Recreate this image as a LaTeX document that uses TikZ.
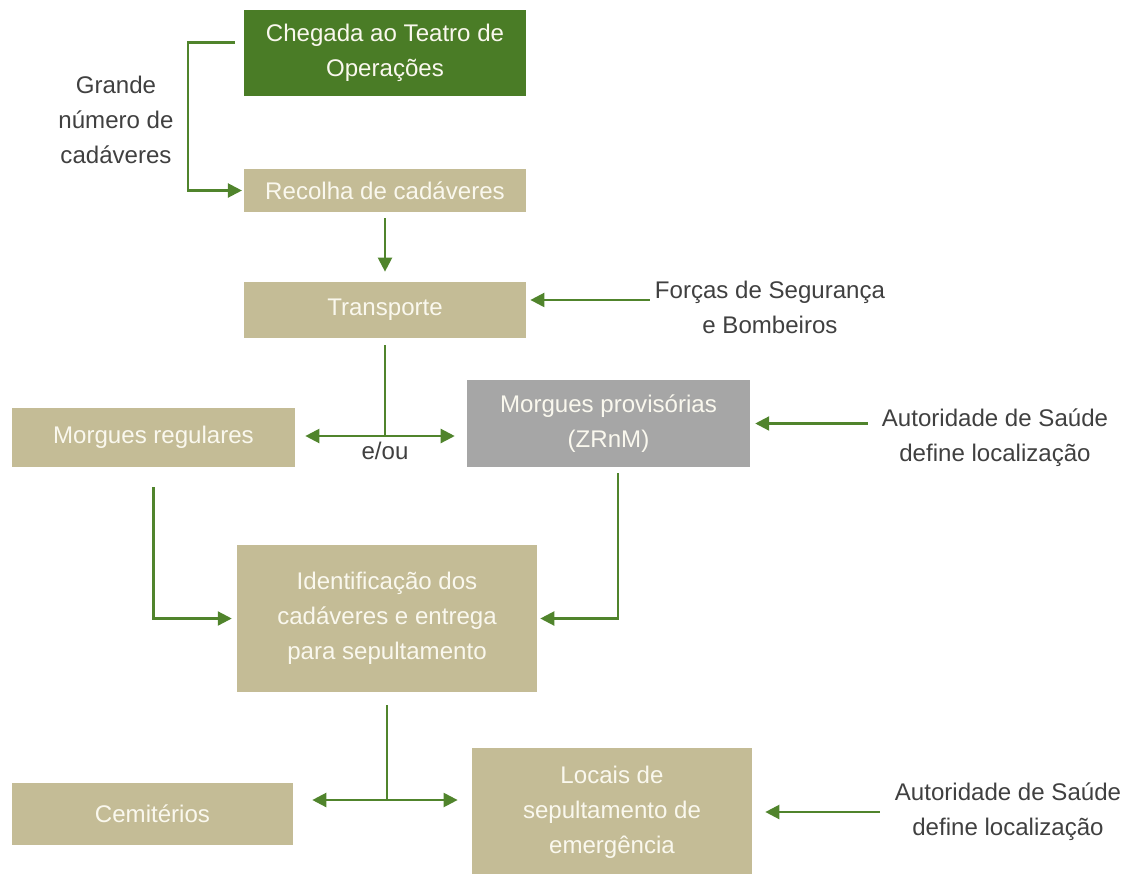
\documentclass[tikz,border=0pt]{standalone}
\usepackage{fontspec}
\setmainfont{Liberation Sans}
\usepackage{tikz}
\usetikzlibrary{arrows.meta, positioning, calc}
\definecolor{boxgreen}{RGB}{74,124,38}
\definecolor{boxtan}{RGB}{196,188,150}
\definecolor{boxgray}{RGB}{166,166,166}
\definecolor{linegreen}{RGB}{80,132,44}
\definecolor{labelgray}{RGB}{64,64,64}
\definecolor{boxtext}{RGB}{250,248,238}
\tikzset{
  tanbox/.style={rectangle, fill=boxtan, text=boxtext, align=center,
    inner sep=0pt, font=\fontsize{13.7}{19.9}\selectfont},
  greenbox/.style={tanbox, fill=boxgreen},
  graybox/.style={tanbox, fill=boxgray},
  label/.style={text=labelgray, align=center, inner sep=0pt,
    font=\fontsize{13.7}{19.9}\selectfont},
  arrow/.style={-{Triangle[length=0.28cm, width=0.28cm]}, line width=1.3pt, color=linegreen},
  line/.style={line width=1.3pt, color=linegreen}
}

\begin{document}
\begin{tikzpicture}[x=0.02cm, y=-0.02cm]
  \useasboundingbox (0,0) rectangle (1133,873);

  \node[greenbox, minimum width=5.64cm, minimum height=1.72cm] (chegada) at (385,53) {Chegada ao Teatro de\\Operações};
  \node[tanbox, minimum width=5.64cm, minimum height=0.86cm] (recolha) at (385,190.5) {Recolha de cadáveres};
  \node[tanbox, minimum width=5.64cm, minimum height=1.12cm] (transporte) at (385,310) {Transporte};
  \node[tanbox, minimum width=5.66cm, minimum height=1.18cm] (mregulares) at (153.5,437.5) {Morgues regulares};
  \node[graybox, minimum width=5.66cm, minimum height=1.74cm] (mprovisorias) at (608.5,423.5) {Morgues provisórias\\(ZRnM)};
  \node[tanbox, minimum width=6.0cm, minimum height=2.94cm] (identificacao) at (387,618.5) {Identificação dos\\cadáveres e entrega\\para sepultamento};
  \node[tanbox, minimum width=5.62cm, minimum height=1.24cm] (cemiterios) at (152.5,814) {Cemitérios};
  \node[tanbox, minimum width=5.6cm, minimum height=2.56cm] (locais) at (612,812) {Locais de\\sepultamento de\\emergência};

  \node[label] (grande) at (116,120) {Grande\\número de\\cadáveres};
  \node[label] (forcas) at (770,307) {Forças de Segurança\\e Bombeiros};
  \node[label] (autoridade1) at (995,438) {Autoridade de Saúde\\define localização};
  \node[label] (autoridade2) at (1008,812) {Autoridade de Saúde\\define localização};

  \coordinate (split1) at (385,436);
  \coordinate (split2) at (387,800);
  \node[label, below=0.12cm of split1] (eou) {e/ou};

  \draw[arrow, shorten <=5pt, shorten >=1pt] ([yshift=6pt]chegada.west) -- ++(-56,0) |- (recolha.west);
  \draw[arrow, shorten <=3.4pt, shorten >=5.7pt] (recolha.south) -- (transporte.north);
  \draw[line, shorten <=4pt] (transporte.south) -- (split1);
  \draw[arrow, shorten >=5.7pt] (split1) -- (split1 -| mregulares.east);
  \draw[arrow, shorten >=6.8pt] (split1) -- (split1 -| mprovisorias.west);
  \draw[arrow, shorten <=2.8pt, shorten >=2.3pt] ([yshift=4pt]forcas.west) -- ([yshift=4pt]forcas.west -| transporte.east);
  \draw[arrow, shorten <=8pt, shorten >=2.8pt] (autoridade1.west |- mprovisorias.east) -- (mprovisorias.east);
  \draw[arrow, shorten <=11.3pt, shorten >=2.8pt] (mregulares.south) |- (identificacao.west);
  \draw[arrow, shorten <=3.4pt, shorten >=1.7pt] ([xshift=5.4pt]mprovisorias.south) |- (identificacao.east);
  \draw[line, shorten <=7.4pt] (identificacao.south) -- (split2);
  \draw[arrow, shorten >=10.8pt] (split2) -- (split2 -| cemiterios.east);
  \draw[arrow, shorten >=8pt] (split2) -- (split2 -| locais.west);
  \draw[arrow, shorten <=8.5pt, shorten >=7.4pt] (autoridade2.west) -- (autoridade2.west -| locais.east);
\end{tikzpicture}
\end{document}
